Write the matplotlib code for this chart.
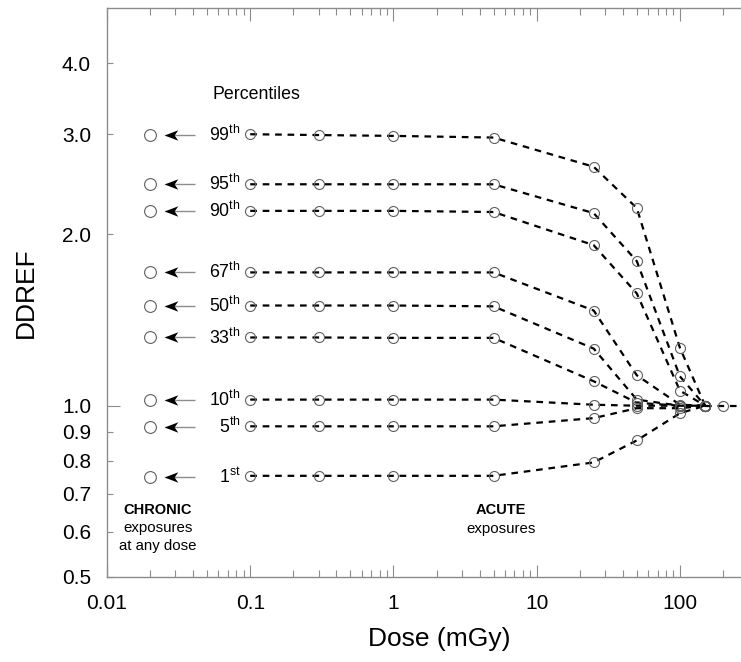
import matplotlib
matplotlib.use("Agg")
import matplotlib.pyplot as plt
from matplotlib.path import Path
from matplotlib.ticker import FixedLocator, FixedFormatter, FormatStrFormatter, LogLocator, NullFormatter

plt.rcParams["font.family"] = ["Liberation Sans", "DejaVu Sans"]
plt.rcParams["mathtext.fontset"] = "custom"
plt.rcParams["mathtext.rm"] = "Liberation Sans"

# acute doses (mGy) and the chronic column position
doses = [0.1, 0.3, 1, 5, 25, 50, 100, 150]
chronic_dose = 0.02
# all percentiles meet at DDREF = 1 above 150 mGy
tail_doses = [150, 200, 300]
tail = [1.0, 1.0, 1.0]

percentiles = ["99", "95", "90", "67", "50", "33", "10", "5", "1"]
suffixes = ["th", "th", "th", "th", "th", "th", "th", "th", "st"]

# DDREF for chronic exposures (any dose)
chronic = [2.99, 2.45, 2.20, 1.715, 1.50, 1.318, 1.025, 0.918, 0.75]

# DDREF for acute exposures, one list per percentile
p99 = [3.00, 2.99, 2.98, 2.96, 2.63, 2.225, 1.264, 1.0]
p95 = [2.45, 2.45, 2.45, 2.45, 2.18, 1.795, 1.126, 1.0]
p90 = [2.20, 2.20, 2.20, 2.19, 1.915, 1.575, 1.063, 1.0]
p67 = [1.715, 1.715, 1.715, 1.715, 1.47, 1.131, 1.004, 1.0]
p50 = [1.50, 1.50, 1.50, 1.495, 1.26, 1.025, 1.0, 1.0]
p33 = [1.318, 1.318, 1.316, 1.316, 1.104, 1.012, 1.0, 1.0]
p10 = [1.025, 1.025, 1.025, 1.025, 1.004, 1.0, 1.0, 1.0]
p5 = [0.92, 0.92, 0.92, 0.92, 0.951, 0.99, 0.99, 1.0]
p1 = [0.753, 0.753, 0.753, 0.753, 0.795, 0.869, 0.97, 1.0]
acute = [p99, p95, p90, p67, p50, p33, p10, p5, p1]

x_ticks = [0.01, 0.1, 1, 10, 100]
x_ticklabels = ["0.01", "0.1", "1", "10", "100"]
y_major = [1.0]
y_minor = [0.5, 0.6, 0.7, 0.8, 0.9, 2.0, 3.0, 4.0]

gray = "#8c8c8c"
edge = "#606060"
dash = (0, (3.0, 2.6))

fig = plt.figure(figsize=(7.41, 6.62), dpi=100)
ax = fig.add_axes([107 / 741, 1 - 577 / 662, 1 - 107 / 741, 569 / 662])
ax.set_xscale("log")
ax.set_yscale("log")

# stealth arrowhead used as a marker
head = Path(
    [(-6.5, 0), (6.5, 5), (3, 0), (6.5, -5), (-6.5, 0)],
    [Path.MOVETO, Path.LINETO, Path.LINETO, Path.LINETO, Path.CLOSEPOLY],
)

for name, suf, c, vals in zip(percentiles, suffixes, chronic, acute):
    ax.plot(doses, vals, color="black", lw=1.6, ls=dash,
            marker="o", ms=7.2, mfc="none", mec=edge, mew=0.8)
    ax.plot([chronic_dose], [c], marker="o", ms=8.5, mfc="white", mec=edge, mew=0.8, ls="none")
    ax.plot([0.0254, 0.0411], [c, c], color=gray, lw=1.0, solid_capstyle="butt")
    ax.plot([0.0282], [c], marker=head, ms=9.8, color="black", mew=0, ls="none")
    ax.text(0.0862, c, rf"{name}$^{{\rm {suf}}}$", ha="right", va="center", fontsize=12.8)

ax.plot(tail_doses, tail, color="black", lw=1.6, ls=dash,
        marker="o", ms=7.2, mfc="none", mec=edge, mew=0.8)

ax.text(0.0541, 3.53, "Percentiles", ha="left", va="center", fontsize=12.8)

ax.text(0.0227, 0.656, "CHRONIC", ha="center", va="center", fontsize=10.5, fontweight="bold")
ax.text(0.0227, 0.610, "exposures", ha="center", va="center", fontsize=10.8)
ax.text(0.0227, 0.567, "at any dose", ha="center", va="center", fontsize=10.8)
ax.text(5.63, 0.656, "ACUTE", ha="center", va="center", fontsize=10.5, fontweight="bold")
ax.text(5.63, 0.608, "exposures", ha="center", va="center", fontsize=10.8)

ax.set_xlim(0.01, 267)
ax.set_ylim(0.5, 5.0)

ax.xaxis.set_major_locator(FixedLocator(x_ticks))
ax.xaxis.set_major_formatter(FixedFormatter(x_ticklabels))
ax.xaxis.set_minor_locator(LogLocator(base=10, subs=range(2, 10)))
ax.xaxis.set_minor_formatter(NullFormatter())
ax.yaxis.set_major_locator(FixedLocator(y_major))
ax.yaxis.set_minor_locator(FixedLocator(y_minor))
ax.yaxis.set_major_formatter(FormatStrFormatter("%.1f"))
ax.yaxis.set_minor_formatter(FormatStrFormatter("%.1f"))

ax.tick_params(axis="x", which="both", direction="in", top=True, color=gray, width=0.8,
               labelsize=15, pad=12.5)
ax.tick_params(axis="x", which="major", length=9)
ax.tick_params(axis="x", which="minor", length=5)
ax.tick_params(axis="y", which="both", direction="in", color=gray, width=0.8,
               labelsize=15, pad=11.5)
ax.tick_params(axis="y", which="major", length=9)
ax.tick_params(axis="y", which="minor", length=4.5)

for side in ["left", "bottom", "top"]:
    ax.spines[side].set_color(gray)
    ax.spines[side].set_linewidth(1.0)
ax.spines["right"].set_visible(False)

fig.text(25.5 / 741, 1 - 293 / 662, "DDREF", rotation=90, ha="center", va="center", fontsize=19)
fig.text(439 / 741, 1 - 639 / 662, "Dose (mGy)", ha="center", va="center", fontsize=19)

fig.savefig("out.png", dpi=100)
